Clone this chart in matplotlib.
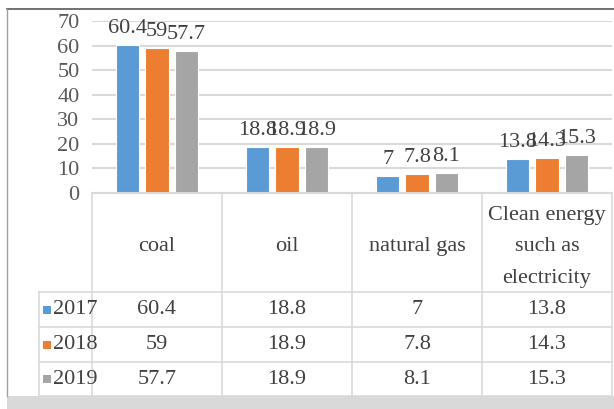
import matplotlib
matplotlib.use("Agg")
import matplotlib.pyplot as plt
import numpy as np
from matplotlib.lines import Line2D
from matplotlib.patches import Rectangle

categories = ["coal", "oil", "natural gas", "Clean energy\nsuch as\nelectricity"]
years = ["2017", "2018", "2019"]
v2017 = [60.4, 18.8, 7, 13.8]
v2018 = [59, 18.9, 7.8, 14.3]
v2019 = [57.7, 18.9, 8.1, 15.3]
yticks = [0, 10, 20, 30, 40, 50, 60, 70]
colors = ["#5b9bd5", "#ed7d31", "#a5a5a5"]
series = [v2017, v2018, v2019]

W, H = 614, 409
FONT = dict(family="Liberation Serif")
FS = 16
TXT = "#404040"

fig = plt.figure(figsize=(W / 100, H / 100), dpi=100)

def fx(x):
    return x / W

def fy(y):
    return 1 - y / H

# axes region
left, right, top, bottom = 92, 612, 21, 193
ax = fig.add_axes([fx(left), fy(bottom), fx(right - left), fy(top) - fy(bottom)])
ax.set_xlim(-0.5, len(categories) - 0.5)
ax.set_ylim(0, 70)
ax.set_yticks(yticks)
ax.set_yticklabels([str(t) for t in yticks], color="#595959", fontsize=FS, **FONT)
ax.tick_params(axis="y", length=0, pad=9)
ax.set_xticks([])
for s in ax.spines.values():
    s.set_visible(False)
ax.grid(axis="y", color="#d9d9d9", linewidth=1.5)
ax.set_axisbelow(True)

x = np.arange(len(categories))
bw = 0.18
off = 0.225
for i, (vals, c) in enumerate(zip(series, colors)):
    pos = x + (i - 1) * off
    ax.bar(pos, vals, width=bw, color=c, edgecolor="white", linewidth=0.8, zorder=2)
    for p, v in zip(pos, vals):
        ax.annotate(f"{v:g}", (p, v), xytext=(0, 5), textcoords="offset points",
                    ha="center", va="bottom", fontsize=FS, color=TXT, **FONT)

# frame
fig.add_artist(Line2D([fx(7), fx(614)], [fy(9), fy(9)], color="#595959", lw=1.2))
fig.add_artist(Line2D([fx(7), fx(7)], [fy(9), fy(396)], color="#a0a0a0", lw=1.0))
fig.add_artist(Rectangle((fx(7), 0), fx(607), fy(396), color="#d9d9d9", lw=0))

# table
gc = "#d9d9d9"
colx = [92, 222, 352, 482, 612]
rowy = [193, 292, 327, 362, 396]
fig.add_artist(Line2D([fx(92), fx(612)], [fy(193), fy(193)], color=gc, lw=1.5))
for yy in rowy[1:]:
    fig.add_artist(Line2D([fx(39), fx(612)], [fy(yy), fy(yy)], color=gc, lw=1.2))
for xx in colx:
    fig.add_artist(Line2D([fx(xx), fx(xx)], [fy(193), fy(396)], color=gc, lw=1.2))
fig.add_artist(Line2D([fx(39), fx(39)], [fy(292), fy(396)], color=gc, lw=1.2))

# header
for j, cat in enumerate(categories):
    cx = (colx[j] + colx[j + 1]) / 2
    fig.text(fx(cx), fy(247), cat, ha="center", va="center", fontsize=FS,
             color=TXT, linespacing=1.9, **FONT)

# rows
for r, (yr, vals, c) in enumerate(zip(years, series, colors)):
    cy = (rowy[r + 1] + rowy[r + 2]) / 2
    fig.add_artist(Rectangle((fx(43), fy(cy + 4)), fx(8), fy(cy - 4) - fy(cy + 4), color=c, lw=0))
    fig.text(fx(53), fy(cy), yr, ha="left", va="center", fontsize=FS, color=TXT, **FONT)
    for j, v in enumerate(vals):
        cx = (colx[j] + colx[j + 1]) / 2
        fig.text(fx(cx), fy(cy), f"{v:g}", ha="center", va="center", fontsize=FS, color=TXT, **FONT)

fig.savefig("out.png", dpi=100)
